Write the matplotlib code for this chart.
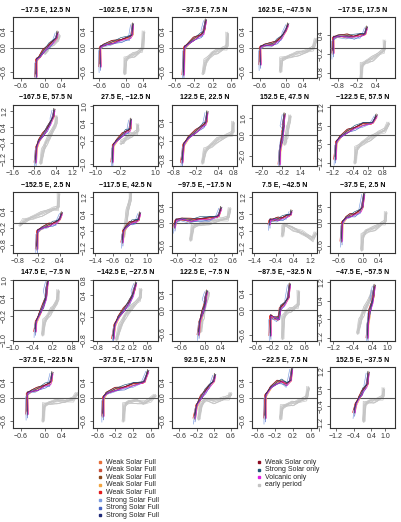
import matplotlib
matplotlib.use("Agg")
import matplotlib.pyplot as plt
from matplotlib.lines import Line2D

plt.rcParams['font.family'] = ['Liberation Sans', 'DejaVu Sans']

# ---------------- data ----------------
titles = ["−17.5 E, 12.5 N", "−102.5 E, 17.5 N", "−37.5 E, 7.5 N", "162.5 E, −47.5 N", "−17.5 E, 17.5 N",
          "−167.5 E, 57.5 N", "27.5 E, −12.5 N", "122.5 E, 22.5 N", "152.5 E, 47.5 N", "−122.5 E, 57.5 N",
          "−152.5 E, 2.5 N", "−117.5 E, 42.5 N", "−97.5 E, −17.5 N", "7.5 E, −42.5 N", "−37.5 E, 2.5 N",
          "147.5 E, −7.5 N", "−142.5 E, −27.5 N", "122.5 E, −7.5 N", "−87.5 E, −32.5 N", "−47.5 E, −57.5 N",
          "−37.5 E, −22.5 N", "−37.5 E, −17.5 N", "92.5 E, 2.5 N", "−22.5 E, 7.5 N", "152.5 E, −37.5 N"]

xlims = [(-0.8, 0.82), (-0.74, 0.74), (-0.66, 0.72), (-0.79, 0.74), (-1.05, 1.0),
         (-1.5, 1.45), (-1.1, 1.1), (-0.83, 0.9), (-2.85, 2.85), (-1.3, 1.3),
         (-0.92, 0.92), (-1.5, 1.5), (-0.7, 0.7), (-1.5, 1.5), (-0.8, 0.8),
         (-0.98, 0.98), (-0.9, 0.9), (-0.8, 0.8), (-0.7, 0.9), (-1.33, 1.33),
         (-0.8, 0.82), (-0.7, 0.76), (-0.77, 0.74), (-0.72, 0.74), (-1.45, 1.45)]

ylims = [(-0.75, 0.75), (-0.75, 0.75), (-0.75, 0.75), (-0.75, 0.75), (-0.95, 0.95),
         (-1.5, 1.5), (-1.05, 1.05), (-0.97, 0.97), (-2.9, 2.9), (-1.3, 1.3),
         (-1.07, 1.07), (-1.45, 1.45), (-0.77, 0.77), (-1.45, 1.45), (-0.77, 0.77),
         (-1.03, 1.03), (-0.82, 0.82), (-0.77, 0.77), (-0.74, 0.74), (-1.3, 1.3),
         (-0.77, 0.77), (-0.77, 0.77), (-0.77, 0.77), (-0.77, 0.77), (-1.4, 1.4)]

xticks = [[-0.6, 0.0, 0.4], [-0.6, 0.0, 0.4], [-0.6, -0.2, 0.2, 0.6], [-0.6, 0.0, 0.4], [-0.8, -0.2, 0.4],
          [-1.6, -0.6, 0.4, 1.2], [-1.0, -0.2, 1.0], [-0.8, -0.2, 0.4, 0.8], [-2.0, -0.2, 1.4], [-1.2, -0.4, 0.2, 0.8],
          [-0.8, -0.2, 0.4], [-1.4, -0.6, 0.2, 1.0], [-0.6, -0.2, 0.2, 0.6], [-1.4, -0.4, 0.4, 1.2], [-0.6, 0.0, 0.4],
          [-1.0, -0.4, 0.2, 0.8], [-0.8, -0.2, 0.2, 0.6], [-0.6, 0.0, 0.4], [-0.6, -0.2, 0.2, 0.6], [-1.2, -0.4, 0.4, 1.0],
          [-0.6, 0.0, 0.4], [-0.6, -0.2, 0.2, 0.6], [-0.6, -0.2, 0.2, 0.6], [-0.6, -0.2, 0.2, 0.6], [-1.2, -0.4, 0.4, 1.0]]

yticks = [[-0.6, 0.0, 0.4], [-0.6, 0.0, 0.4], [-0.6, 0.0, 0.4], [-0.6, 0.0, 0.4], [-0.8, -0.2, 0.4],
          [-1.2, -0.4, 0.4, 1.2], [-1.0, -0.2, 0.4, 1.0], [-0.8, -0.2, 0.4], [-2.0, 0.0, 1.6], [-1.2, -0.4, 0.4, 1.2],
          [-0.8, -0.2, 0.4], [-1.2, -0.4, 0.4, 1.2], [-0.6, 0.0, 0.4], [-1.2, -0.4, 0.4, 1.2], [-0.6, 0.0, 0.4],
          [-1.0, -0.2, 0.4, 1.0], [-0.8, -0.2, 0.4, 0.8], [-0.6, 0.0, 0.4], [-0.6, 0.0, 0.4], [-1.2, -0.4, 0.4, 1.2],
          [-0.6, 0.0, 0.4], [-0.6, 0.0, 0.4], [-0.6, 0.0, 0.4], [-0.6, 0.0, 0.4], [-1.2, -0.4, 0.4, 1.2]]

full_x = [[-0.23, -0.22, -0.15, -0.05, 0.1, 0.2, 0.28, 0.3],
          [-0.58, -0.58, -0.5, -0.3, -0.1, 0.1, 0.15, 0.16],
          [-0.42, -0.4, -0.3, -0.2, -0.05, 0.0, 0.03, 0.05],
          [-0.6, -0.6, -0.5, -0.3, -0.2, -0.1, 0.0, 0.05],
          [-0.96, -0.95, -0.8, -0.5, -0.3, -0.1, 0.05, 0.1],
          [-0.55, -0.5, -0.4, -0.2, 0.0, 0.15, 0.3, 0.32],
          [-0.45, -0.42, -0.3, -0.1, 0.0, 0.12, 0.16, 0.17],
          [-0.57, -0.52, -0.4, -0.2, 0.0, 0.05, 0.08, 0.1],
          [-0.45, -0.4, -0.35, -0.25, -0.15, -0.1, -0.08, -0.03],
          [-1.1, -1.05, -0.9, -0.6, -0.3, 0.0, 0.4, 0.55],
          [-0.25, -0.23, -0.1, 0.1, 0.2, 0.3, 0.4, 0.45],
          [-0.15, -0.1, 0.0, 0.2, 0.3, 0.45, 0.6, 0.65],
          [-0.65, -0.62, -0.5, -0.3, -0.1, 0.1, 0.3, 0.35],
          [-0.7, -0.68, -0.5, -0.3, -0.1, 0.1, 0.28, 0.3],
          [-0.52, -0.5, -0.4, -0.3, -0.2, -0.05, 0.0, 0.03],
          [-0.33, -0.3, -0.2, -0.1, -0.05, 0.0, 0.03, 0.05],
          [-0.35, -0.3, -0.2, -0.05, 0.1, 0.2, 0.25, 0.28],
          [-0.15, -0.12, -0.08, -0.05, 0.0, 0.02, 0.03, 0.05],
          [-0.25, -0.25, -0.15, -0.05, 0.0, 0.1, 0.2, 0.22],
          [0.2, 0.22, 0.25, 0.28, 0.33, 0.4, 0.45, 0.48],
          [-0.45, -0.45, -0.35, -0.2, 0.0, 0.12, 0.15, 0.17],
          [-0.48, -0.47, -0.4, -0.2, 0.0, 0.2, 0.45, 0.53],
          [-0.25, -0.2, -0.15, -0.1, 0.0, 0.1, 0.2, 0.22],
          [-0.43, -0.42, -0.3, -0.15, -0.05, 0.05, 0.15, 0.17],
          [-0.38, -0.3, -0.15, -0.05, 0.0, 0.15, 0.22, 0.25]]

full_y = [[-0.7, -0.3, -0.25, -0.1, 0.05, 0.15, 0.22, 0.35],
          [-0.45, 0.0, 0.05, 0.12, 0.18, 0.25, 0.3, 0.55],
          [-0.65, 0.0, 0.1, 0.2, 0.3, 0.35, 0.45, 0.65],
          [-0.4, 0.0, 0.05, 0.08, 0.15, 0.25, 0.4, 0.55],
          [-0.15, 0.3, 0.35, 0.35, 0.33, 0.38, 0.4, 0.6],
          [-1.3, -0.6, -0.3, 0.0, 0.3, 0.6, 0.9, 1.2],
          [-0.9, -0.35, -0.2, 0.0, 0.1, 0.15, 0.2, 0.5],
          [-0.85, -0.3, -0.1, 0.1, 0.3, 0.35, 0.4, 0.7],
          [-2.7, -1.5, -1.0, -0.5, 0.3, 0.7, 1.0, 1.9],
          [-1.0, -0.3, -0.1, 0.15, 0.3, 0.45, 0.5, 0.8],
          [-0.9, -0.3, -0.2, -0.1, -0.05, 0.0, 0.1, 0.3],
          [-0.9, -0.4, -0.25, -0.05, 0.0, 0.05, 0.1, 0.4],
          [-0.1, 0.05, 0.08, 0.05, 0.08, 0.1, 0.15, 0.35],
          [-0.05, 0.1, 0.12, 0.15, 0.2, 0.3, 0.35, 0.5],
          [-0.45, 0.0, 0.12, 0.17, 0.2, 0.3, 0.38, 0.7],
          [-0.7, -0.4, -0.15, 0.1, 0.25, 0.4, 0.7, 0.95],
          [-0.75, -0.4, -0.2, 0.0, 0.2, 0.4, 0.55, 0.7],
          [-0.6, -0.3, -0.15, -0.05, 0.1, 0.2, 0.3, 0.45],
          [-0.6, -0.15, -0.2, -0.22, 0.05, 0.15, 0.3, 0.6],
          [-1.15, -0.6, -0.3, -0.05, 0.1, 0.35, 0.6, 1.0],
          [-0.4, 0.1, 0.15, 0.2, 0.3, 0.35, 0.4, 0.6],
          [-0.45, 0.0, 0.1, 0.2, 0.25, 0.33, 0.38, 0.65],
          [-0.5, -0.2, -0.1, 0.0, 0.15, 0.3, 0.4, 0.55],
          [-0.5, 0.05, 0.25, 0.38, 0.4, 0.33, 0.42, 0.7],
          [-0.65, -0.3, 0.0, 0.15, 0.3, 0.5, 0.6, 1.1]]

early_x = [[0.0, 0.05, 0.12, 0.2, 0.28, 0.33, 0.35],
           [-0.02, 0.0, 0.1, 0.2, 0.3, 0.38, 0.42],
           [0.0, 0.05, 0.2, 0.3, 0.4, 0.5, 0.52],
           [-0.12, -0.1, 0.1, 0.3, 0.5, 0.65, 0.72],
           [-0.07, -0.05, 0.1, 0.3, 0.5, 0.65, 0.68],
           [-0.3, -0.2, -0.05, 0.1, 0.25, 0.4, 0.45],
           [-0.15, -0.1, 0.05, 0.2, 0.3, 0.4, 0.42],
           [-0.02, 0.05, 0.2, 0.4, 0.6, 0.78, 0.8],
           [0.0, 0.1, 0.15, 0.25, 0.3, 0.4, 0.5],
           [-0.3, -0.25, 0.0, 0.3, 0.6, 0.9, 1.05],
           [-0.72, -0.6, -0.4, -0.1, 0.2, 0.35, 0.38],
           [-0.1, -0.05, 0.0, 0.05, 0.1, 0.2, 0.25],
           [-0.3, -0.25, -0.1, 0.1, 0.3, 0.5, 0.55],
           [-0.1, -0.05, 0.0, 0.4, 0.8, 1.3, 1.45],
           [-0.02, 0.0, 0.1, 0.3, 0.45, 0.55, 0.58],
           [-0.1, -0.05, 0.1, 0.18, 0.25, 0.35, 0.38],
           [-0.25, -0.15, 0.0, 0.15, 0.3, 0.4, 0.43],
           [-0.1, -0.07, -0.05, 0.0, 0.02, 0.07, 0.1],
           [0.05, 0.07, 0.15, 0.25, 0.35, 0.43, 0.45],
           [-0.2, -0.1, 0.0, 0.1, 0.25, 0.35, 0.4],
           [-0.05, -0.03, 0.1, 0.3, 0.5, 0.7, 0.8],
           [-0.02, 0.0, 0.1, 0.3, 0.45, 0.6, 0.7],
           [-0.15, -0.1, 0.0, 0.2, 0.4, 0.55, 0.6],
           [-0.08, -0.05, 0.1, 0.2, 0.3, 0.5, 0.55],
           [0.05, 0.1, 0.3, 0.5, 0.7, 0.9, 0.95]]

early_y = [[-0.15, -0.05, 0.05, 0.1, 0.15, 0.22, 0.3],
           [-0.65, -0.3, -0.22, -0.18, -0.12, -0.05, 0.38],
           [-0.65, -0.35, -0.15, -0.1, -0.05, 0.0, 0.35],
           [-0.6, -0.3, -0.22, -0.15, -0.1, -0.02, 0.2],
           [-0.95, -0.55, -0.45, -0.35, -0.2, -0.1, 0.2],
           [-1.4, -0.8, -0.4, -0.1, 0.2, 0.5, 0.9],
           [-0.3, -0.25, -0.1, 0.0, 0.05, 0.1, 0.35],
           [-0.9, -0.5, -0.35, -0.15, -0.05, 0.05, 0.4],
           [-0.9, -0.5, -0.2, 0.3, 0.7, 1.2, 1.8],
           [-1.2, -0.6, -0.35, -0.15, 0.05, 0.2, 0.5],
           [-0.1, 0.05, 0.15, 0.3, 0.45, 0.5, 1.0],
           [-0.7, -0.4, -0.2, 0.2, 0.6, 1.0, 1.45],
           [-0.45, -0.1, -0.05, 0.0, 0.05, 0.1, 0.35],
           [-0.65, -0.25, -0.1, -0.3, -0.5, -0.8, -0.5],
           [-0.7, -0.35, -0.22, -0.15, -0.05, 0.0, 0.25],
           [-0.85, -0.4, -0.15, 0.0, 0.1, 0.3, 0.65],
           [-0.8, -0.45, -0.15, 0.05, 0.2, 0.3, 0.55],
           [-0.55, -0.3, -0.2, 0.05, 0.15, 0.3, 0.45],
           [-0.7, -0.2, -0.05, 0.0, 0.05, 0.1, 0.45],
           [-1.0, -0.5, -0.2, 0.05, 0.35, 0.6, 0.8],
           [-0.6, -0.2, -0.15, -0.1, -0.1, -0.05, 0.1],
           [-0.6, -0.2, -0.12, -0.1, -0.15, -0.05, 0.05],
           [-0.55, -0.2, -0.05, -0.1, -0.05, 0.0, 0.1],
           [-0.55, -0.25, -0.18, -0.15, -0.12, -0.02, 0.25],
           [-1.1, -0.3, -0.2, -0.15, -0.1, 0.0, 0.4]]

# ensemble member spreads (relative units)
gray_dx = [-1.0, -0.5, 0.0, 0.5, 1.0, 0.3, -0.3, 0.8, -0.8, 0.1]
gray_dy = [0.8, -0.6, 0.3, -0.2, 0.5, -0.9, 0.0, -0.4, 0.6, 1.0]
gray_wig = [[0.0, 0.5, -0.4, 0.3, -0.2, 0.4, 0.0],
            [0.3, -0.2, 0.4, -0.5, 0.2, -0.1, 0.3],
            [-0.4, 0.2, 0.0, 0.4, -0.3, 0.2, -0.2],
            [0.2, -0.4, 0.3, 0.0, 0.5, -0.3, 0.1],
            [-0.2, 0.3, -0.5, 0.2, 0.0, 0.3, -0.4],
            [0.5, 0.0, 0.2, -0.3, 0.3, -0.4, 0.2],
            [-0.3, -0.3, 0.5, 0.1, -0.4, 0.0, 0.4],
            [0.1, 0.4, -0.2, -0.4, 0.1, 0.5, -0.1],
            [-0.5, 0.1, 0.1, 0.5, -0.1, -0.2, 0.0],
            [0.4, -0.5, -0.1, -0.2, 0.4, 0.1, -0.3]]

series_labels = ["Weak Solar Full"] * 5 + ["Strong Solar Full"] * 3 + ["Weak Solar only", "Strong Solar only", "Volcanic only", "early period"]
series_colors = ["#e8703a", "#c9503a", "#8c4a1c", "#f2a541", "#e31a1c",
                 "#7b9be0", "#4563c4", "#1f2a78",
                 "#8b0a20", "#1f5576", "#e01ee0", "#c4c4c4"]
col_dx = [0.5, -0.4, 0.2, 1.0, -0.8, -1.2, 0.0, 0.7, -0.2, 0.3, 0.9]
col_dy = [0.3, -0.5, 0.8, -0.2, 0.0, -1.2, -0.8, 0.4, 0.6, 1.0, -0.3]
col_wig = [[0.2, 0.4, -0.3, 0.3, -0.2, 0.4, 0.0, 0.3],
           [-0.5, 0.3, 0.4, -0.4, 0.2, -0.1, 0.3, -0.2],
           [0.6, -0.2, 0.0, 0.4, -0.3, 0.2, -0.2, 0.4],
           [0.0, -0.4, 0.3, 0.0, 0.5, -0.3, 0.1, -0.5],
           [-0.3, 0.3, -0.5, 0.2, 0.0, 0.3, -0.4, 0.2],
           [-1.8, -0.6, 0.2, -0.3, 0.3, -0.4, 0.2, 0.8],
           [-1.2, -0.3, 0.5, 0.1, -0.4, 0.0, 0.4, 0.2],
           [-0.6, 0.4, -0.2, -0.4, 0.1, 0.5, -0.1, 0.3],
           [0.4, 0.1, 0.1, 0.5, -0.1, -0.2, 0.0, -0.2],
           [0.2, -0.5, -0.1, -0.2, 0.4, 0.1, -0.3, 0.1],
           [-0.3, 0.2, 0.3, -0.2, 0.2, -0.3, 0.2, 0.0]]

# ---------------- layout ----------------
W, H = 401, 522
col_left = [13, 93, 172, 252, 330]
row_top = [17, 104.5, 192, 279.5, 367]
AW, AH = 65, 61


def fmt(v):
    return f"{v:.1f}".replace("-", "\u2212")


fig = plt.figure(figsize=(W / 100, H / 100), dpi=100)

for i in range(25):
    r, c = divmod(i, 5)
    ax = fig.add_axes([col_left[c] / W, 1 - (row_top[r] + AH) / H, AW / W, AH / H])
    x0, x1 = xlims[i]
    y0, y1 = ylims[i]
    sx, sy = x1 - x0, y1 - y0
    # early period (gray)
    for k in range(len(gray_dx)):
        xs = [v + gray_dx[k] * sx * 0.02 + gray_wig[k][(j + 3) % 7] * sx * 0.02 for j, v in enumerate(early_x[i])]
        ys = [v + gray_dy[k] * sy * 0.025 + gray_wig[k][j % 7] * sy * 0.05 for j, v in enumerate(early_y[i])]
        ax.plot(xs, ys, color=series_colors[-1], lw=0.45, zorder=2)
    ax.axhline(0, color="#555555", lw=0.8, zorder=3)
    for k in range(len(col_dx)):
        xs = [v + col_dx[k] * sx * 0.015 + col_wig[k][(j + 2) % 8] * sx * 0.02 for j, v in enumerate(full_x[i])]
        ys = [v + col_dy[k] * sy * 0.025 + col_wig[k][j % 8] * sy * 0.045 for j, v in enumerate(full_y[i])]
        ax.plot(xs, ys, color=series_colors[k], lw=0.45, zorder=4)
    ax.set_xlim(x0, x1)
    ax.set_ylim(y0, y1)
    ax.set_xticks(xticks[i])
    ax.set_xticklabels([fmt(v) for v in xticks[i]])
    ax.set_yticks(yticks[i])
    ax.set_yticklabels([fmt(v) for v in yticks[i]], rotation=90, va="center")
    ax.tick_params(labelsize=5, length=2, width=0.5, pad=1.5, colors="#333333")
    for s in ax.spines.values():
        s.set_color("#333333")
        s.set_linewidth(0.8)
    ax.set_title(titles[i], fontsize=5, fontweight="bold", pad=4)

# ---------------- legend ----------------
leg_cols = [(100, series_labels[:8], series_colors[:8]), (259, series_labels[8:], series_colors[8:])]
for xm, labs, cols in leg_cols:
    for j, (lab, colr) in enumerate(zip(labs, cols)):
        yp = 1 - (462 + j * 7.6) / H
        fig.add_artist(Line2D([xm / W], [yp], marker="s", markersize=2, color=colr, lw=0,
                              transform=fig.transFigure))
        fig.text((xm + 6) / W, yp, lab, fontsize=5, va="center", ha="left", color="#222222")

fig.savefig("out.png", dpi=100)
